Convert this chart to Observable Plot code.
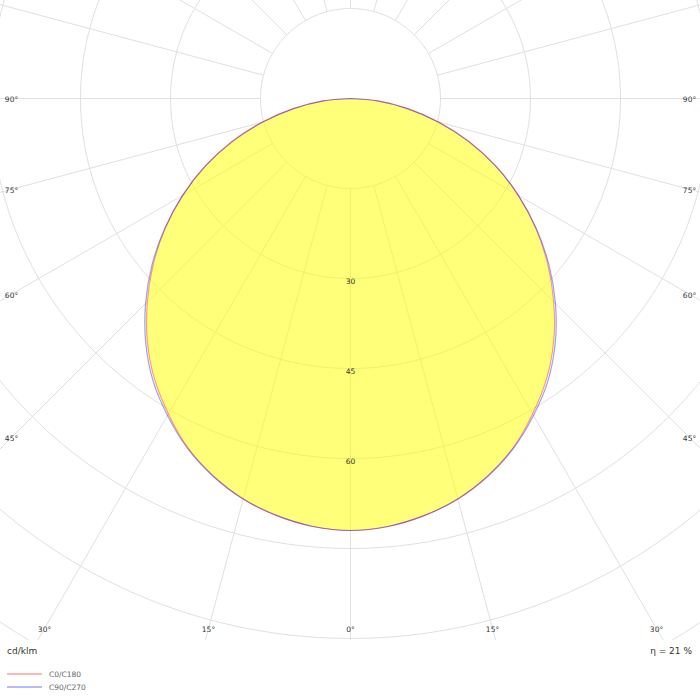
<!DOCTYPE html>
<html>
<head>
<meta charset="utf-8">
<script src="https://cdn.jsdelivr.net/npm/d3@7"></script>
<script src="https://cdn.jsdelivr.net/npm/@observablehq/plot@0.6"></script>
<style>
  html, body { margin: 0; padding: 0; background: #fff; }
  #wrap { width: 700px; position: relative; font-family: "DejaVu Sans", sans-serif; }
  #foot { position: relative; width: 700px; height: 60px; }
  .t { position: absolute; line-height: 12px; white-space: nowrap; }
  .lg { position: absolute; left: 7px; width: 35px; height: 2px; }
</style>
</head>
<body>
<div id="wrap">
  <div id="chart"></div>
  <div id="foot">
    <span class="t" style="left:7px; top:5px; font-size:9px; color:#333;">cd/klm</span>
    <span class="t" style="right:8px; top:5px; font-size:9px; color:#333;">η = 21 %</span>
    <div class="lg" style="top:33px; background:#ffb8b8;"></div>
    <span class="t" style="left:49px; top:29px; font-size:7.5px; color:#666;">C0/C180</span>
    <div class="lg" style="top:46px; background:#b8b8ff;"></div>
    <span class="t" style="left:49px; top:42px; font-size:7.5px; color:#666;">C90/C270</span>
  </div>
</div>
<script>
// ---- data (cd/klm), gamma angles 0..90 in 5° steps ----
const gammaAngles = [0, 5, 10, 15, 20, 25, 30, 35, 40, 45, 50, 55, 60, 65, 70, 75, 80, 85, 90];
const c0c180 = [72.0, 71.6, 70.6, 69.1, 66.9, 64.2, 60.7, 57.0, 52.7, 47.9, 42.9, 37.7, 32.3, 26.8, 21.1, 15.3, 9.7, 4.6, 0];
const c90c270 = [72.0, 71.6, 70.6, 69.1, 67.0, 64.3, 61.0, 57.4, 53.1, 48.3, 43.2, 37.8, 32.3, 26.7, 20.9, 15.1, 9.5, 4.5, 0];
const gridRadii = [15, 30, 45, 60, 75, 90, 105, 120];
const radialLabels = [30, 45, 60];
const angleLabels = [0, 15, 30, 45, 60, 75, 90];
const spokeAngles = d3.range(0, 360, 15);

const rad = Math.PI / 180;
// closed outline: left half (C180 / C270) from 90° down to 0°, then right half (C0 / C90) 0°→90°
function outline(vals, name) {
  const pts = [];
  for (let i = gammaAngles.length - 1; i >= 0; i--) {
    const a = gammaAngles[i] * rad;
    pts.push({x: -vals[i] * Math.sin(a), y: -vals[i] * Math.cos(a), s: name});
  }
  for (let i = 1; i < gammaAngles.length; i++) {
    const a = gammaAngles[i] * rad;
    pts.push({x: vals[i] * Math.sin(a), y: -vals[i] * Math.cos(a), s: name});
  }
  return pts;
}
const red = outline(c0c180, "C0/C180");
const blue = outline(c90c270, "C90/C270");

const circles = gridRadii.flatMap(r => d3.range(0, 361, 2).map(a => ({r, x: r * Math.sin(a * rad), y: -r * Math.cos(a * rad)})));
const spokes = spokeAngles.map(a => ({
  x1: 15 * Math.sin(a * rad), y1: -15 * Math.cos(a * rad),
  x2: 130 * Math.sin(a * rad), y2: -130 * Math.cos(a * rad)
}));

const PX = 6; // pixels per cd/klm (used only for scale domains)
const W = 700, H = 640, CX = 350, CY = 98;
const sideX = (CX - 11) / PX, botY = (628 - CY) / PX;
const angLab = angleLabels.flatMap(a => {
  const s = Math.sin(a * rad), c = Math.cos(a * rad);
  const t = Math.min(s > 0 ? sideX / s : Infinity, botY / c);
  const side = s > 0 && sideX / s <= botY / c;
  const out = [{x: t * s, y: -t * c, label: `${a}°`, side}];
  if (a !== 0) out.push({x: -t * s, y: -t * c, label: `${a}°`, side});
  return out;
});

const chart = Plot.plot({
  width: W, height: H,
  margin: 0,
  x: {domain: [-CX / PX, (W - CX) / PX], axis: null},
  y: {domain: [-(H - CY) / PX, CY / PX], axis: null},
  style: {background: "#fff"},
  marks: [
    Plot.dot([{x: 0, y: 0}], {x: "x", y: "y", r: 15 * PX, fill: "#fff", stroke: "none"}),
    Plot.line(circles, {x: "x", y: "y", z: "r", stroke: "#e0e0e0", strokeWidth: 1, clip: true}),
    Plot.link(spokes, {x1: "x1", y1: "y1", x2: "x2", y2: "y2", stroke: "#e0e0e0", strokeWidth: 1, clip: true}),
    Plot.line(red, {x: "x", y: "y", curve: "catmull-rom", fill: "#ffff00", fillOpacity: 0.52, stroke: "none"}),
    Plot.line(red, {x: "x", y: "y", curve: "catmull-rom", stroke: "#ff0000", strokeOpacity: 0.38, strokeWidth: 1.2}),
    Plot.line(blue, {x: "x", y: "y", curve: "catmull-rom", stroke: "#0000ff", strokeOpacity: 0.38, strokeWidth: 1.2}),
    Plot.text(radialLabels, {x: () => 0, y: d => -d, text: d => `${d}`, dy: 3, fontSize: 7.5, fill: "#333", fontFamily: "DejaVu Sans"}),
    Plot.text(angLab.filter(d => d.side), {x: "x", y: "y", text: "label", dy: 1.5, fontSize: 7.5, fill: "#333", fontFamily: "DejaVu Sans"}),
    Plot.text(angLab.filter(d => !d.side), {x: "x", y: "y", text: "label", dy: 1, fontSize: 7.5, fill: "#333", fontFamily: "DejaVu Sans"})
  ]
});
document.getElementById("chart").appendChild(chart);
</script>
</body>
</html>
